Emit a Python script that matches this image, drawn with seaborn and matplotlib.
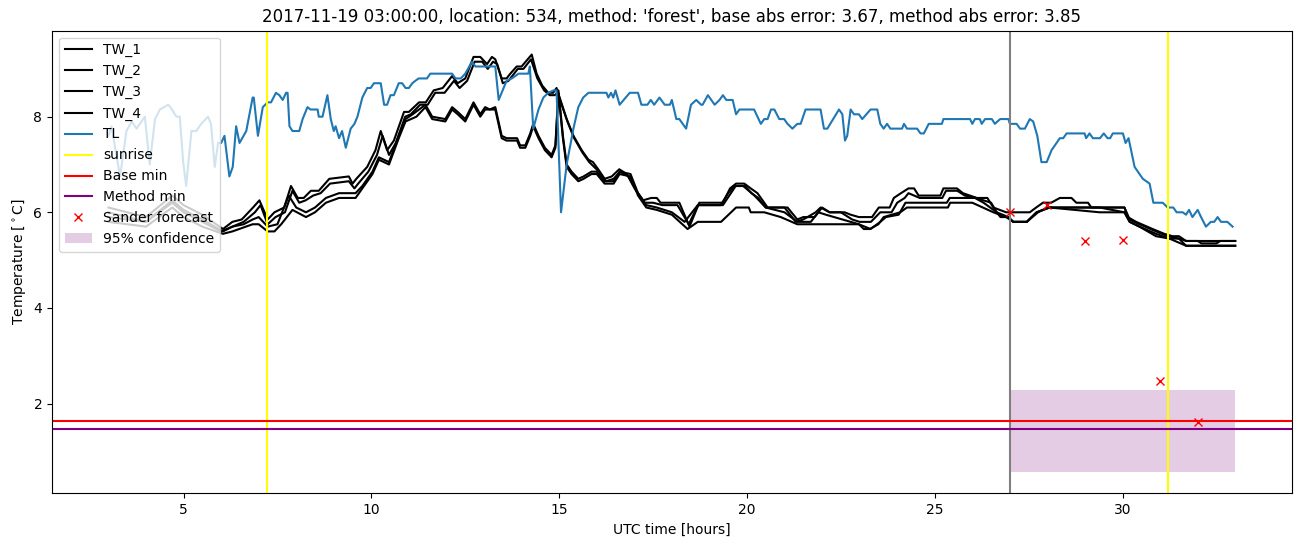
"""
Station temperature plot: road/air temperature traces with min-temp forecast.
"""
import matplotlib
matplotlib.use('Agg')
import matplotlib.pyplot as plt
import seaborn as sns
import numpy as np

TITLE = ("2017-11-19 03:00:00, location: 534, method: 'forest', "
         "base abs error: 3.67, method abs error: 3.85")

# (UTC hour, temperature) vertices
TW_1 = [(3.0, 6.1), (3.5, 6.0), (4.0, 5.9), (4.7, 6.35), (5.0, 6.15), (5.5, 5.95), (6.05, 5.65),
        (6.3, 5.8), (6.55, 5.85), (6.85, 6.1), (7.02, 6.25), (7.24, 5.85), (7.42, 6.0), (7.68, 6.1),
        (7.86, 6.55), (8.04, 6.3), (8.2, 6.3), (8.39, 6.45), (8.6, 6.45), (8.88, 6.7), (9.4, 6.75),
        (9.5, 6.6), (9.6, 6.7), (9.89, 6.95), (10.11, 7.3), (10.25, 7.7), (10.42, 7.3), (10.6, 7.5),
        (10.87, 8.1), (11.0, 8.1), (11.27, 8.3), (11.45, 8.3), (11.66, 8.55), (11.9, 8.6),
        (12.15, 8.85), (12.3, 8.7), (12.5, 8.8), (12.72, 9.25), (12.9, 9.25), (13.08, 9.1),
        (13.21, 9.25), (13.3, 9.2), (13.47, 8.8), (13.6, 8.8), (13.7, 8.9), (13.87, 9.05),
        (14.0, 9.05), (14.27, 9.3), (14.4, 8.9), (14.55, 8.65), (14.71, 8.5), (14.84, 8.5),
        (14.93, 8.6), (15.2, 7.95), (15.38, 7.6), (15.6, 7.3), (15.78, 7.1), (15.9, 7.05),
        (16.04, 6.9), (16.21, 6.7), (16.4, 6.75), (16.6, 6.9), (16.8, 6.8), (17.01, 6.5),
        (17.23, 6.25), (17.45, 6.3), (17.6, 6.3), (17.7, 6.2), (18.2, 6.2), (18.47, 5.7),
        (18.73, 6.2), (19.36, 6.2), (19.55, 6.5), (19.71, 6.6), (19.93, 6.6), (20.1, 6.5),
        (20.28, 6.4), (20.55, 6.1), (21.08, 6.1), (21.34, 5.85), (21.5, 5.9), (21.8, 5.9),
        (22.0, 6.1), (22.2, 6.0), (22.6, 6.0), (22.76, 5.95), (22.98, 5.9), (23.33, 5.9),
        (23.51, 6.1), (23.8, 6.1), (23.91, 6.3), (24.1, 6.4), (24.3, 6.5), (24.45, 6.5),
        (24.57, 6.35), (25.15, 6.35), (25.23, 6.5), (25.59, 6.5), (25.75, 6.4), (26.12, 6.3),
        (26.4, 6.3), (26.56, 6.1), (26.9, 6.0), (27.53, 6.0), (27.7, 6.1), (27.88, 6.2),
        (28.1, 6.2), (28.33, 6.3), (28.64, 6.3), (28.77, 6.2), (29.08, 6.2), (29.17, 6.1),
        (30.05, 6.1), (30.14, 5.9), (30.36, 5.8), (30.8, 5.65), (31.11, 5.55), (31.33, 5.5),
        (31.5, 5.5), (31.69, 5.4), (33.0, 5.4)]

TW_2 = [(3.0, 6.0), (3.5, 5.9), (4.0, 5.8), (4.7, 6.25), (5.0, 6.05), (5.5, 5.85), (6.05, 5.6),
        (6.3, 5.7), (6.6, 5.8), (6.9, 6.0), (7.05, 6.15), (7.24, 5.75), (7.45, 5.9), (7.7, 6.0),
        (7.9, 6.45), (8.08, 6.2), (8.25, 6.25), (8.45, 6.35), (8.65, 6.4), (8.9, 6.6), (9.4, 6.65),
        (9.55, 6.5), (9.65, 6.6), (9.92, 6.85), (10.15, 7.2), (10.3, 7.6), (10.47, 7.2),
        (10.65, 7.45), (10.9, 8.0), (11.05, 8.05), (11.3, 8.25), (11.5, 8.25), (11.7, 8.5),
        (11.95, 8.5), (12.2, 8.75), (12.35, 8.6), (12.55, 8.75), (12.75, 9.15), (12.95, 9.15),
        (13.1, 9.0), (13.24, 9.15), (13.35, 9.1), (13.5, 8.7), (13.65, 8.75), (13.75, 8.85),
        (13.9, 9.0), (14.05, 9.0), (14.25, 9.2), (14.42, 8.8), (14.6, 8.55), (14.75, 8.45),
        (14.88, 8.45), (14.96, 8.5), (15.22, 7.9), (15.4, 7.55), (15.62, 7.25), (15.8, 7.05),
        (16.06, 6.85), (16.25, 6.65), (16.45, 6.7), (16.62, 6.85), (16.85, 6.75), (17.05, 6.45),
        (17.28, 6.2), (17.5, 6.2), (17.75, 6.15), (18.15, 6.15), (18.45, 5.75), (18.7, 6.15),
        (19.3, 6.15), (19.5, 6.4), (19.66, 6.55), (19.95, 6.55), (20.12, 6.4), (20.3, 6.3),
        (20.5, 6.1), (21.0, 6.1), (21.3, 5.8), (21.5, 5.85), (21.83, 6.0), (21.96, 6.1),
        (22.2, 6.0), (22.5, 6.0), (22.8, 5.85), (23.0, 5.8), (23.3, 5.8), (23.55, 6.0),
        (23.85, 6.0), (24.0, 6.2), (24.2, 6.3), (24.3, 6.4), (24.6, 6.3), (25.2, 6.3),
        (25.3, 6.45), (25.6, 6.45), (25.8, 6.35), (26.1, 6.3), (26.5, 6.2), (26.65, 6.0),
        (26.96, 5.9), (27.09, 5.8), (27.45, 5.8), (27.6, 5.9), (27.75, 6.0), (28.0, 6.1),
        (28.33, 6.1), (28.77, 6.1), (29.1, 6.1), (29.39, 6.1), (30.05, 6.1), (30.19, 5.85),
        (30.45, 5.75), (30.89, 5.6), (31.2, 5.5), (31.5, 5.45), (31.7, 5.4), (32.0, 5.4),
        (32.1, 5.35), (32.5, 5.35), (32.6, 5.4), (33.0, 5.4)]

TW_3 = [(3.0, 5.9), (3.5, 5.85), (4.0, 5.8), (4.7, 6.2), (5.0, 6.0), (5.5, 5.8), (6.0, 5.6),
        (6.3, 5.7), (6.6, 5.75), (6.84, 5.85), (7.0, 5.9), (7.24, 5.7), (7.5, 5.75), (7.8, 6.35),
        (8.0, 6.1), (8.26, 6.0), (8.5, 6.1), (8.79, 6.3), (9.14, 6.4), (9.58, 6.4), (9.76, 6.55),
        (10.03, 6.85), (10.2, 7.15), (10.47, 7.05), (10.73, 7.6), (10.91, 7.95), (11.1, 8.05),
        (11.44, 8.25), (11.62, 8.0), (11.97, 7.95), (12.15, 8.2), (12.3, 8.1), (12.5, 7.95),
        (12.72, 8.3), (12.9, 8.05), (13.03, 8.2), (13.15, 8.15), (13.3, 8.2), (13.47, 7.6),
        (13.6, 7.55), (13.88, 7.55), (13.96, 7.4), (14.1, 7.4), (14.23, 7.65), (14.31, 7.85),
        (14.45, 7.6), (14.62, 7.35), (14.8, 7.2), (14.9, 7.4), (14.98, 8.55), (15.1, 7.6),
        (15.2, 7.0), (15.33, 6.85), (15.51, 6.7), (15.65, 6.75), (15.86, 6.85), (16.0, 6.85),
        (16.21, 6.65), (16.45, 6.65), (16.61, 6.85), (16.9, 6.8), (17.1, 6.4), (17.32, 6.15),
        (17.6, 6.1), (18.0, 6.0), (18.34, 5.8), (18.69, 6.15), (19.36, 6.15), (19.7, 6.55),
        (19.9, 6.55), (20.2, 6.35), (20.5, 6.1), (21.0, 6.0), (21.34, 5.8), (21.7, 5.8),
        (21.9, 6.0), (22.1, 5.95), (22.76, 5.8), (22.98, 5.75), (23.29, 5.65), (23.55, 5.8),
        (23.7, 5.9), (24.04, 5.95), (24.22, 6.2), (25.32, 6.2), (25.4, 6.3), (26.07, 6.3),
        (26.3, 6.2), (26.65, 6.0), (26.75, 5.9), (26.96, 5.9), (27.09, 5.8), (27.45, 5.8),
        (27.71, 6.0), (28.06, 6.1), (29.39, 6.1), (30.05, 6.0), (30.19, 5.8), (30.45, 5.7),
        (30.89, 5.55), (31.25, 5.45), (31.5, 5.45), (31.69, 5.3), (33.0, 5.3)]

TW_4 = [(3.0, 5.8), (3.5, 5.75), (4.0, 5.7), (4.7, 6.1), (5.0, 5.9), (5.5, 5.7), (6.05, 5.55),
        (6.3, 5.6), (6.84, 5.75), (7.0, 5.75), (7.24, 5.6), (7.42, 5.6), (7.6, 5.75), (7.9, 6.05),
        (8.26, 5.9), (8.5, 6.0), (8.79, 6.2), (9.14, 6.3), (9.58, 6.3), (9.76, 6.5), (10.03, 6.8),
        (10.2, 7.1), (10.47, 7.0), (10.73, 7.55), (10.91, 7.9), (11.2, 8.0), (11.44, 8.2),
        (11.62, 7.95), (11.97, 7.9), (12.15, 8.15), (12.3, 8.05), (12.5, 7.9), (12.72, 8.25),
        (12.9, 8.0), (13.03, 8.15), (13.3, 8.15), (13.47, 7.55), (13.6, 7.5), (13.88, 7.5),
        (13.96, 7.35), (14.1, 7.35), (14.23, 7.6), (14.31, 7.8), (14.45, 7.55), (14.62, 7.3),
        (14.8, 7.15), (14.9, 7.35), (14.98, 8.5), (15.1, 7.55), (15.2, 6.95), (15.33, 6.8),
        (15.51, 6.65), (15.65, 6.7), (15.86, 6.8), (16.0, 6.8), (16.21, 6.6), (16.45, 6.6),
        (16.61, 6.8), (16.9, 6.75), (17.1, 6.35), (17.32, 6.1), (17.6, 6.05), (18.0, 5.95),
        (18.42, 5.65), (18.69, 5.8), (19.31, 5.8), (19.71, 6.1), (20.05, 6.1), (20.1, 6.0),
        (20.46, 6.0), (20.9, 5.9), (21.34, 5.75), (21.87, 5.75), (22.98, 5.75), (23.11, 5.65),
        (23.27, 5.65), (23.5, 5.75), (23.64, 5.9), (24.08, 6.0), (24.26, 6.1), (25.35, 6.1),
        (25.41, 6.2), (25.8, 6.2), (26.0, 6.2), (26.56, 6.0), (26.9, 5.9), (27.09, 5.8),
        (27.45, 5.8), (27.71, 6.0), (28.06, 6.1), (29.39, 6.0), (30.05, 6.0), (30.19, 5.8),
        (30.45, 5.7), (30.89, 5.5), (31.25, 5.45), (31.69, 5.3), (33.0, 5.3)]

TL = [(3.0, 7.6), (3.08, 7.8), (3.31, 6.75), (3.48, 7.7), (3.62, 7.9), (3.75, 7.75), (3.97, 8.0),
      (4.10, 7.0), (4.24, 7.95), (4.37, 8.15), (4.59, 8.25), (4.65, 8.2), (4.81, 8.0), (4.90, 8.0),
      (4.99, 7.05), (5.07, 6.55), (5.21, 7.7), (5.34, 7.7), (5.47, 7.85), (5.65, 8.0), (5.73, 7.85),
      (5.83, 6.95), (5.92, 7.45), (6.0, 7.45), (6.09, 7.6), (6.22, 6.75), (6.31, 6.95), (6.40, 7.8),
      (6.49, 7.45), (6.67, 7.7), (6.84, 8.4), (6.87, 8.4), (6.98, 7.6), (7.11, 8.2), (7.24, 8.3),
      (7.33, 8.3), (7.46, 8.5), (7.55, 8.45), (7.64, 8.35), (7.73, 8.5), (7.77, 8.5), (7.82, 7.8),
      (7.9, 7.7), (8.08, 7.7), (8.17, 7.95), (8.30, 8.2), (8.38, 8.15), (8.57, 8.15), (8.6, 8.0),
      (8.7, 8.0), (8.83, 8.45), (8.92, 7.95), (9.0, 7.7), (9.05, 7.8), (9.14, 7.55), (9.22, 7.7),
      (9.32, 7.35), (9.45, 7.75), (9.55, 7.85), (9.63, 8.0), (9.76, 8.4), (9.89, 8.6), (9.98, 8.6),
      (10.07, 8.7), (10.25, 8.7), (10.34, 8.25), (10.42, 8.25), (10.51, 8.45), (10.6, 8.45),
      (10.73, 8.7), (10.82, 8.7), (10.91, 8.6), (11.0, 8.6), (11.09, 8.7), (11.17, 8.75),
      (11.26, 8.8), (11.48, 8.8), (11.57, 8.9), (12.15, 8.9), (12.24, 8.8), (12.38, 8.8),
      (12.50, 8.9), (12.68, 9.15), (12.77, 9.05), (13.3, 9.05), (13.39, 8.35), (13.52, 8.6),
      (13.6, 8.75), (13.74, 8.8), (13.83, 8.85), (13.92, 8.9), (14.18, 8.9), (14.22, 9.05),
      (14.31, 7.75), (14.45, 8.15), (14.58, 8.4), (14.71, 8.5), (14.85, 8.55), (14.93, 8.55),
      (15.05, 6.0), (15.2, 7.0), (15.38, 7.75), (15.51, 8.2), (15.64, 8.4), (15.78, 8.5),
      (16.26, 8.5), (16.31, 8.4), (16.38, 8.5), (16.44, 8.4), (16.5, 8.55), (16.61, 8.25),
      (16.88, 8.5), (17.1, 8.5), (17.19, 8.25), (17.35, 8.25), (17.44, 8.35), (17.53, 8.25),
      (17.67, 8.4), (17.81, 8.25), (17.95, 8.25), (18.0, 8.35), (18.12, 7.95), (18.2, 7.95),
      (18.38, 7.75), (18.51, 8.25), (18.65, 8.35), (18.78, 8.25), (18.82, 8.25), (18.96, 8.45),
      (19.14, 8.25), (19.27, 8.35), (19.36, 8.45), (19.45, 8.35), (19.62, 8.35), (19.71, 8.05),
      (19.80, 8.15), (20.19, 8.15), (20.37, 7.85), (20.46, 7.95), (20.55, 7.95), (20.64, 8.15),
      (20.73, 8.15), (20.86, 7.95), (20.99, 7.95), (21.08, 7.85), (21.21, 7.75), (21.34, 7.85),
      (21.43, 7.85), (21.56, 8.15), (21.96, 8.15), (22.05, 7.75), (22.14, 7.75), (22.45, 8.15),
      (22.54, 8.05), (22.61, 7.5), (22.67, 7.6), (22.76, 8.15), (22.85, 8.05), (22.98, 8.05),
      (23.07, 7.95), (23.29, 8.15), (23.47, 8.15), (23.55, 7.85), (23.64, 7.75), (23.73, 7.85),
      (23.82, 7.75), (24.13, 7.75), (24.18, 7.85), (24.26, 7.75), (24.53, 7.75), (24.62, 7.65),
      (24.71, 7.65), (24.84, 7.85), (25.19, 7.85), (25.23, 7.95), (25.94, 7.95), (26.0, 7.85),
      (26.07, 7.95), (26.2, 7.95), (26.25, 7.85), (26.34, 7.95), (26.52, 7.95), (26.6, 7.85),
      (26.74, 7.95), (26.96, 7.95), (27.0, 7.85), (27.18, 7.85), (27.27, 7.75), (27.4, 7.75),
      (27.53, 7.95), (27.62, 7.9), (27.73, 7.6), (27.84, 7.05), (27.98, 7.05), (28.11, 7.3),
      (28.33, 7.55), (28.42, 7.55), (28.51, 7.65), (28.99, 7.65), (29.03, 7.55), (29.12, 7.65),
      (29.21, 7.55), (29.4, 7.55), (29.5, 7.65), (29.6, 7.55), (29.67, 7.55), (29.74, 7.65),
      (30.01, 7.65), (30.08, 7.45), (30.16, 7.55), (30.32, 6.95), (30.45, 6.8), (30.54, 6.7),
      (30.63, 6.65), (30.72, 6.6), (30.82, 6.2), (31.07, 6.2), (31.2, 6.1), (31.35, 6.1),
      (31.44, 6.0), (31.6, 6.0), (31.69, 5.95), (31.77, 6.05), (31.86, 5.9), (32.0, 6.05),
      (32.09, 5.9), (32.22, 5.7), (32.35, 5.8), (32.44, 5.8), (32.53, 5.9), (32.62, 5.8),
      (32.79, 5.8), (32.93, 5.7)]

SUNRISE = [7.22, 31.22]
FORECAST_START = 27.0
BASE_MIN = 1.63
METHOD_MIN = 1.47

FORECAST_HOURS = [27, 28, 29, 30, 31, 32]
FORECAST_TEMP = [6.0, 6.15, 5.4, 5.43, 2.48, 1.62]

CONF_HOURS = [27, 33]
CONF_LOW = 0.56
CONF_HIGH = 2.28


def plot_series(ax, pts, label, color):
    arr = np.array(pts)
    sns.lineplot(x=arr[:, 0], y=arr[:, 1], color=color, label=label, ax=ax,
                 linewidth=1.5, legend=False)


fig = plt.figure(figsize=(13.02, 5.47), dpi=100)
ax = fig.add_axes([0.040, 0.098, 0.952, 0.846])

for pts, name in zip([TW_1, TW_2, TW_3, TW_4], ['TW_1', 'TW_2', 'TW_3', 'TW_4']):
    plot_series(ax, pts, name, 'black')
plot_series(ax, TL, 'TL', '#1f77b4')

ax.axvline(SUNRISE[0], color='yellow', label='sunrise')
ax.axvline(SUNRISE[1], color='yellow')
ax.axvline(FORECAST_START, color='gray')
ax.axhline(BASE_MIN, color='red', label='Base min')
ax.axhline(METHOD_MIN, color='purple', label='Method min')
ax.plot(FORECAST_HOURS, FORECAST_TEMP, 'rx', label='Sander forecast')
ax.fill_between(CONF_HOURS, CONF_LOW, CONF_HIGH, color='purple', alpha=0.2,
                linewidth=0, label='95% confidence')

ax.set_xlim(1.5, 34.5)
ax.set_ylim(0.12, 9.8)
ax.set_xticks([5, 10, 15, 20, 25, 30])
ax.set_yticks([2, 4, 6, 8])
ax.set_xlabel('UTC time [hours]')
ax.set_ylabel(r'Temperature [$^\circ$C]')
ax.set_title(TITLE)
ax.legend(loc='upper left')

fig.savefig('out.png', dpi=100)
